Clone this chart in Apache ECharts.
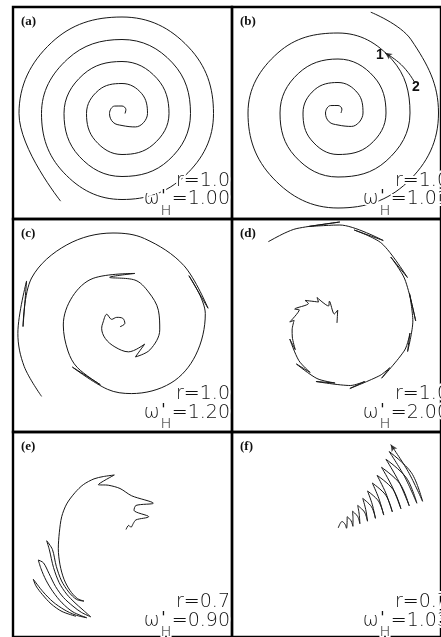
<!DOCTYPE html>
<html>
<head>
<meta charset="utf-8">
<script src="https://cdn.jsdelivr.net/npm/echarts@6/dist/echarts.min.js"></script>
<style>
  html, body { margin: 0; padding: 0; background: #ffffff; }
  #chart { width: 441px; height: 637px; }
</style>
</head>
<body>
<div id="chart"></div>
<script>
// ---------------------------------------------------------------
// Wave-front traces. Panels (a)-(c): polar samples (angle in degrees,
// counter-clockwise and cumulative over turns; radius in px).
// Panels (d)-(f): x/y samples in panel units (origin at the panel's
// upper-left corner, y growing downwards).
// ---------------------------------------------------------------
const spiralA_theta = [0, 45, 90, 135, 180, 225, 270, 315, 360, 405, 450, 495, 540, 585, 630, 675,
  720, 765, 810, 855, 900, 945, 990, 1035, 1080, 1125, 1170, 1215, 1260, 1305, 1350, 1395,
  1440, 1485, 1530, 1575, 1620, 1675];
const spiralA_radius = [3, 5.5, 7.5, 10.5, 12.5, 12.5, 12, 19, 25.5, 28, 30, 33, 35.5, 38, 41, 44,
  47, 49.5, 52, 55, 58, 60.5, 63, 66, 68.5, 71.5, 74, 77, 80.5, 83, 86, 88.5,
  91.5, 94, 96.5, 100, 103, 107];

const spiralB_theta = [0, 45, 90, 135, 180, 225, 270, 315, 360, 405, 450, 495, 540, 585, 630, 675,
  720, 765, 810, 855, 900, 945, 990, 1035, 1080, 1125, 1170, 1215, 1260, 1305, 1350, 1395,
  1440, 1485, 1512];
const spiralB_radius = [3, 5.5, 7.5, 10.5, 12.5, 12.5, 12, 19, 25, 28, 30.5, 33, 35, 38, 41.5, 45,
  48, 51, 54, 56, 58, 61, 64, 68, 72, 76, 80, 85, 90, 92, 95, 98,
  100.5, 103.5, 106];
// short branch "1" -> "2" beside the third turn of (b)
const branchB_theta = [52, 40, 30, 22];
const branchB_radius = [76.5, 79, 81, 82.5];

const spiralC_theta = [-14, 8, 35, 64, 103, 120, 170, 196, 240, 275, 300, 329, 305, 326, 354, 378,
  403, 424, 454, 427, 473, 505, 540, 570, 590, 618, 586, 625, 645, 675, 700, 727,
  753, 730, 760, 790, 810, 840, 870, 901, 873, 905, 925, 945];
const spiralC_radius = [7.2, 12, 11.8, 8.5, 5.8, 12.4, 10.4, 11.8, 15.5, 22, 31, 37, 39, 44.5, 47, 47.7,
  48.5, 50, 47.8, 56, 50.7, 49.5, 49.7, 52, 55.5, 61, 58.5, 64.5, 71, 82, 88, 93,
  90.5, 96.5, 92.5, 92, 92, 92.5, 94, 90, 97, 95.5, 98, 101];

const curveD_x = [110, 110.8, 107.2, 102, 101.2, 89.1, 90.7, 76.5, 80.1, 65.7, 70.5, 60.5, 65.1,
  63, 63.2, 66.3, 60.5, 70, 82, 67.5, 89, 108, 88, 124, 139, 123.5, 155, 165.3, 156.8,
  181, 186.5, 184, 189.5, 186, 192.5, 181, 166.3, 183.8, 157, 128, 158.5, 113, 80.5, 113,
  68, 54.7, 38];
const curveD_y = [104, 91, 95, 82.2, 87, 78.5, 83, 81.4, 84.5, 90.1, 90.8, 103, 101.3,
  111, 118, 130.7, 120, 141.5, 153.5, 145, 159.5, 164, 162.5, 166.5, 162.5, 169.5, 156.5, 148.7, 159.2,
  131, 114, 132.5, 102, 74.5, 102, 60, 38, 58.5, 24.5, 11, 21.5, 6, 7.5, 3,
  9.5, 14.3, 22.7];

const curveE_x = [113, 115.7, 118, 120.3, 123, 135.7, 121, 123, 140.3, 118.7, 107, 95.3, 85.3, 101.3,
  90.3, 81, 70.3, 62, 53.7, 48.7, 46.3, 45.3, 47, 51, 57, 64.3, 71,
  63.6, 55.7, 48.6, 43.3, 39.4, 33.7,
  36.4, 40.5, 46.2, 53.7, 62, 69, 77.7,
  68.5, 60, 50.5, 42.5, 36, 30.5, 25.3,
  28, 33, 40, 49, 60, 73.7,
  62, 51, 40, 30, 20.3,
  23, 29.5, 38, 49, 63];
const curveE_y = [101.3, 97, 99, 95, 91.3, 88, 81.3, 76.3, 74, 66.3, 58.7, 55.3, 54.7, 44.7,
  46.3, 48.7, 54.7, 63, 74.7, 88, 104.7, 121.3, 138, 153, 164.7, 173, 175.7,
  174, 166.2, 154.8, 139.6, 122, 113,
  122.5, 140.8, 156.6, 168.5, 177.5, 184, 192,
  187.5, 181, 172, 160.5, 147, 136, 133,
  142, 154, 166, 177.5, 187, 193,
  190, 184.5, 176.5, 166, 153,
  160, 169, 178.5, 186.5, 191.5];

const curveF_x = [111.3, 115.3, 118.5, 120, 120.6, 120.7, 124.8, 126.7, 126.8, 126.3, 131.7, 134,
  133.3, 131.7, 138.8, 142, 140.1, 137, 146.2, 150.3, 146.9, 142, 153.5, 159, 153.9, 147,
  161.1, 168, 161.1, 152, 168.7, 177, 168.1, 156.7, 175.9, 185.7, 174.9, 161.3, 182.8,
  193.7, 180.7, 164.7, 188, 199.7, 184.7, 166.3];
const curveF_y = [99.7, 93, 95.9, 100, 93.8, 88, 92.3, 98, 89.9, 82.3, 87.8, 95.3,
  85.5, 76.3, 83.2, 92.7, 80.5, 69, 77.7, 89.7, 75, 61.3, 71.8, 86.3, 69.1, 53,
  65.6, 83, 63.3, 45, 59.6, 79.7, 57.3, 36.7, 53.6, 76.7, 51.6, 28.3, 47.7,
  74, 46.1, 20.3, 42.3, 72, 41.3, 13];

const panelLetters = ['(a)', '(b)', '(c)', '(d)', '(e)', '(f)'];
const rValues = ['1.0', '1.0', '1.0', '1.0', '0.7', '0.7'];
const omegaValues = ['1.00', '1.01', '1.20', '2.00', '0.90', '1.03'];
const branchLabels = ['1', '2'];

// ---------------------------------------------------------------
// Layout
// ---------------------------------------------------------------
const LINE = '#161616';
const panels = [
  { left: 13,  top: 7,   width: 219, height: 212 },
  { left: 232, top: 7,   width: 219, height: 212 },
  { left: 13,  top: 219, width: 219, height: 213 },
  { left: 232, top: 219, width: 219, height: 213 },
  { left: 13,  top: 432, width: 219, height: 213 },
  { left: 232, top: 432, width: 219, height: 213 }
];
const polarCenters = [[122, 113.5], [338, 113], [113, 325]];
const POLAR_R = 150;
const capTop = [166, 166, 167.5, 167.5, 162.5, 162.5];   // first text line, from panel top

const toPolar = (th, rr) => th.map((t, i) => [rr[i], ((t % 360) + 360) % 360]);
const toXY = (xs, ys) => xs.map((x, i) => [x, ys[i]]);

const grids = panels.map(p => ({
  left: p.left, top: p.top, width: p.width, height: p.height,
  show: true, borderColor: '#000', borderWidth: 2.4, backgroundColor: 'rgba(0,0,0,0)'
}));
const xAxes = panels.map((p, i) => ({ gridIndex: i, type: 'value', min: 0, max: p.width, show: false }));
const yAxes = panels.map((p, i) => ({ gridIndex: i, type: 'value', min: 0, max: p.height, inverse: true, show: false }));

const polars = polarCenters.map(c => ({ center: c, radius: POLAR_R }));
const angleAxes = polarCenters.map((c, i) => ({
  polarIndex: i, type: 'value', min: 0, max: 360, startAngle: 0, clockwise: false, show: false,
  splitLine: { show: false }, axisLine: { show: false }, axisLabel: { show: false }, axisTick: { show: false }
}));
const radiusAxes = polarCenters.map((c, i) => ({
  polarIndex: i, type: 'value', min: 0, max: POLAR_R, show: false,
  splitLine: { show: false }, axisLine: { show: false }, axisLabel: { show: false }, axisTick: { show: false }
}));

const lineBase = {
  type: 'line', showSymbol: false, symbol: 'none', silent: true,
  lineStyle: { color: LINE, width: 1 }, z: 3
};

const branchData = toPolar(branchB_theta, branchB_radius);
const fData = toXY(curveF_x, curveF_y);

const series = [
  Object.assign({}, lineBase, { coordinateSystem: 'polar', polarIndex: 0, smooth: 0.4, data: toPolar(spiralA_theta, spiralA_radius) }),
  Object.assign({}, lineBase, { coordinateSystem: 'polar', polarIndex: 1, smooth: 0.4, data: toPolar(spiralB_theta, spiralB_radius) }),
  Object.assign({}, lineBase, { coordinateSystem: 'polar', polarIndex: 1, smooth: 0.4, data: branchData }),
  { type: 'scatter', coordinateSystem: 'polar', polarIndex: 1, silent: true, symbol: 'arrow',
    symbolSize: [5, 7], symbolRotate: 55, itemStyle: { color: LINE }, data: [branchData[0]], z: 4 },
  Object.assign({}, lineBase, { coordinateSystem: 'polar', polarIndex: 2, smooth: 0.35, data: toPolar(spiralC_theta, spiralC_radius) }),
  Object.assign({}, lineBase, { coordinateSystem: 'cartesian2d', xAxisIndex: 3, yAxisIndex: 3, smooth: 0.3, data: toXY(curveD_x, curveD_y) }),
  Object.assign({}, lineBase, { coordinateSystem: 'cartesian2d', xAxisIndex: 4, yAxisIndex: 4, smooth: 0.3, data: toXY(curveE_x, curveE_y) }),
  Object.assign({}, lineBase, { coordinateSystem: 'cartesian2d', xAxisIndex: 5, yAxisIndex: 5, smooth: 0.35, data: fData }),
  { type: 'scatter', coordinateSystem: 'cartesian2d', xAxisIndex: 5, yAxisIndex: 5, silent: true, symbol: 'arrow',
    symbolSize: [5, 7], symbolRotate: 33, itemStyle: { color: LINE }, data: [fData[fData.length - 1]], z: 4 }
];

// ---------------------------------------------------------------
// Text: panel letters, parameter lines (r, omega'_H) and branch tags
// ---------------------------------------------------------------
const MAIN_FONT = '200 19px "DejaVu Sans"';
const SUB_FONT = '200 14px "DejaVu Sans"';
const PRIME_FONT = '16px "DejaVu Sans"';
const LETTER_FONT = 'bold 13px "Liberation Serif"';
const measureCtx = document.createElement('canvas').getContext('2d');
function textWidth(str, font) { measureCtx.font = font; return measureCtx.measureText(str).width; }

function txt(x, y, text, font, align, extra) {
  return {
    type: 'text', x: x, y: y, z: 20, silent: true,
    style: Object.assign({
      text: text, font: font, fill: '#111',
      align: align, textAlign: align, verticalAlign: 'top', textVerticalAlign: 'top'
    }, extra || {})
  };
}
const halo = { stroke: '#ffffff', lineWidth: 4 };

const graphics = [];
panels.forEach((p, i) => {
  graphics.push(txt(p.left + 8, p.top + 8, panelLetters[i], LETTER_FONT, 'left'));
  const R = p.left + p.width - 2;
  const y1 = p.top + capTop[i] - 1.5;
  const y2 = y1 + 18.5;
  graphics.push(txt(R, y1, 'r=' + rValues[i], MAIN_FONT, 'right', halo));
  const numStr = '=' + omegaValues[i];
  const wNum = textWidth(numStr, MAIN_FONT);
  const wH = textWidth('H', SUB_FONT);
  const xH = R - wNum - wH - 0.5;
  graphics.push(txt(R, y2, numStr, MAIN_FONT, 'right', halo));
  graphics.push(txt(xH, y1 + 32.5, 'H', SUB_FONT, 'left', halo));
  graphics.push(txt(xH + 0.5, y2 - 1, "'", PRIME_FONT, 'left', halo));
  graphics.push(txt(xH - 1, y2, 'ω', MAIN_FONT, 'right', halo));
});
graphics.push(txt(376, 48, branchLabels[0], 'bold 14px "Liberation Sans"', 'left'));
graphics.push(txt(412, 80, branchLabels[1], 'bold 14px "Liberation Sans"', 'left'));

const chart = echarts.init(document.getElementById('chart'), null, { renderer: 'canvas' });
chart.setOption({
  animation: false,
  backgroundColor: '#ffffff',
  grid: grids,
  xAxis: xAxes,
  yAxis: yAxes,
  polar: polars,
  angleAxis: angleAxes,
  radiusAxis: radiusAxes,
  series: series,
  graphic: graphics
});
</script>
</body>
</html>
